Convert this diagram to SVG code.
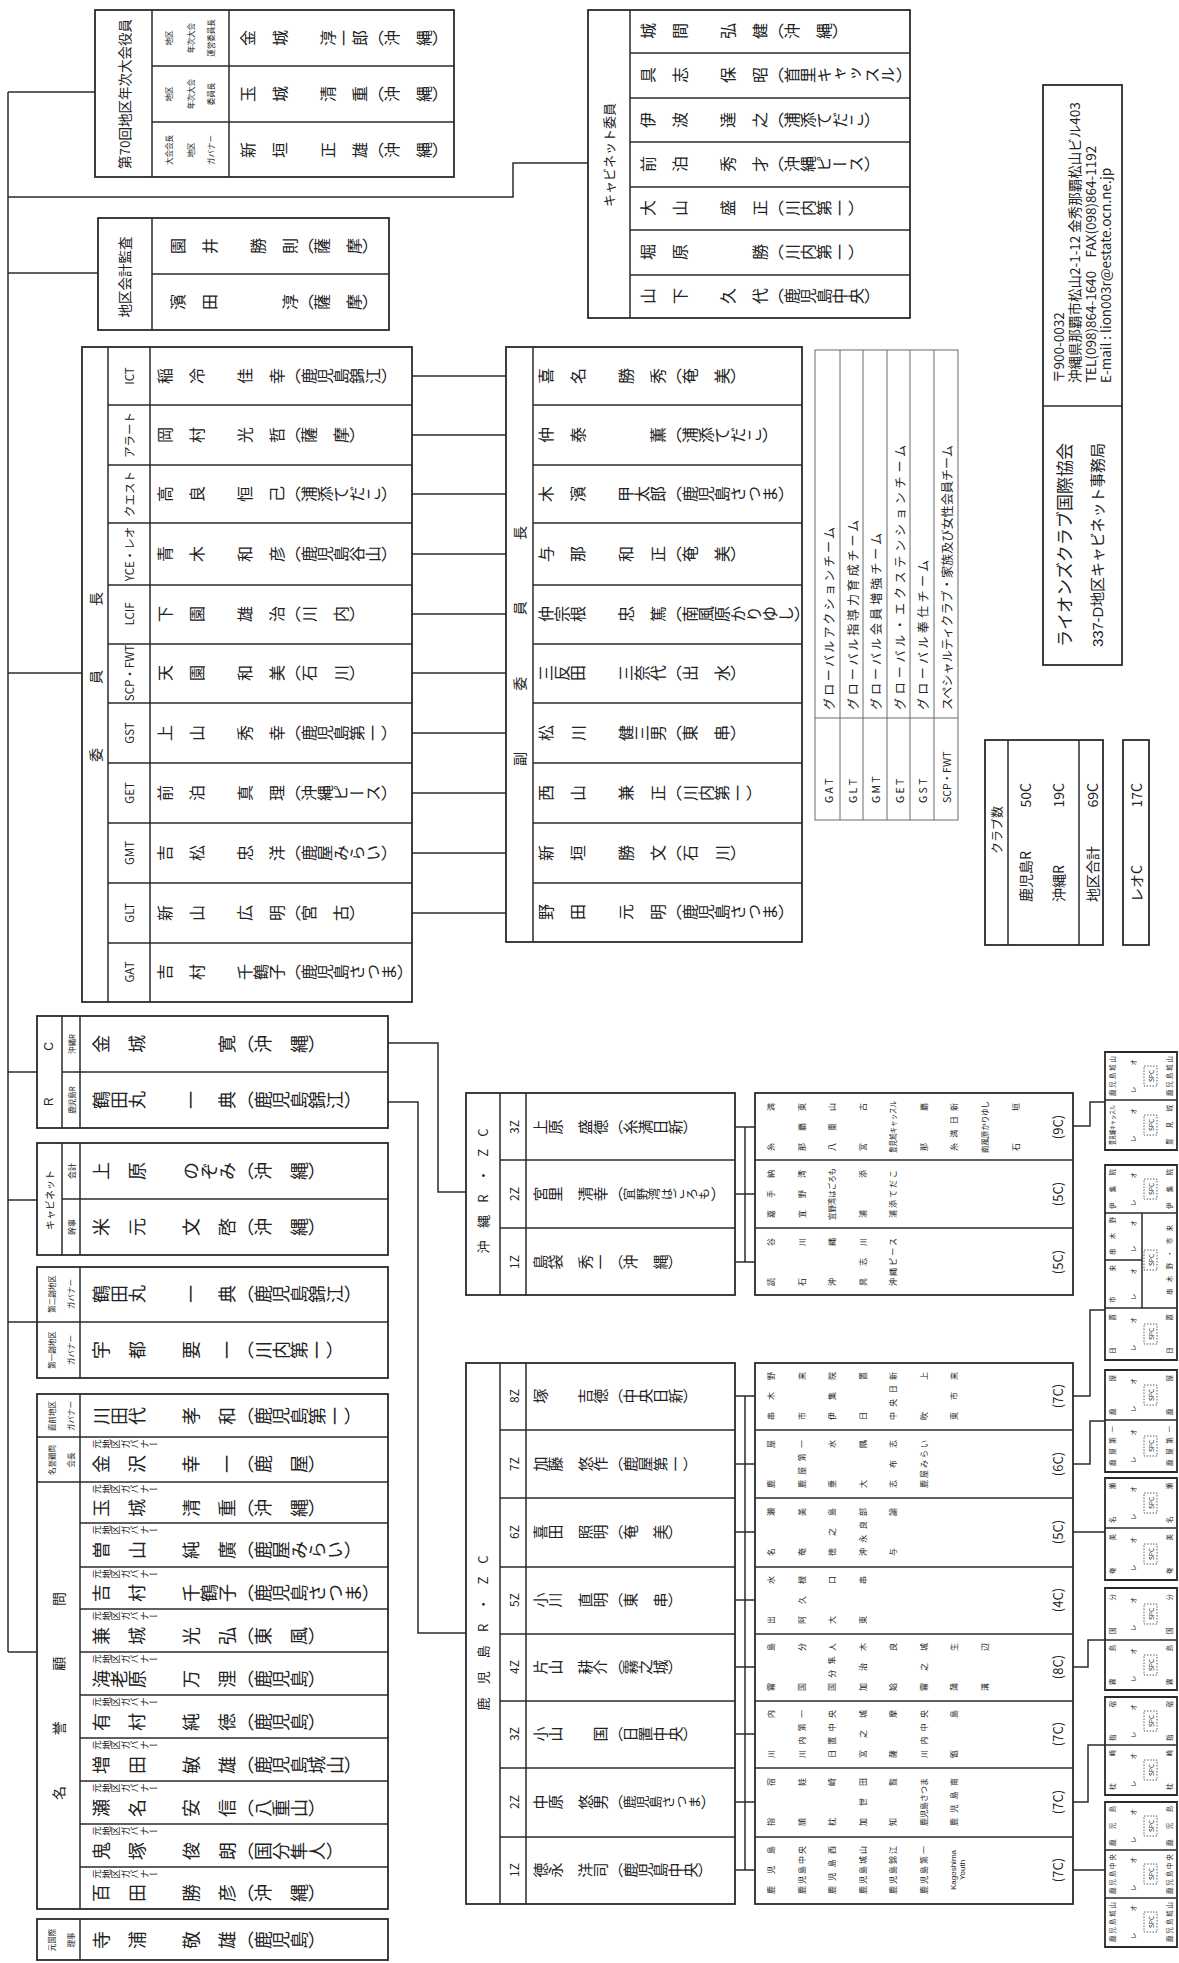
<svg xmlns="http://www.w3.org/2000/svg" width="1179" height="1963" viewBox="0 0 1179 1963">
<style>
.bx{fill:none;stroke:#2b2b2b;stroke-width:1.8}
.ln{fill:none;stroke:#2b2b2b;stroke-width:1.5}
.lg{fill:none;stroke:#6a6a6a;stroke-width:1}
.dt{fill:none;stroke:#333;stroke-width:0.8;stroke-dasharray:1.5 1.5}
text{font-family:"Noto Sans CJK JP","Noto Sans CJK SC",sans-serif;fill:#222}
.v{writing-mode:vertical-rl}
.h{text-anchor:middle;dominant-baseline:central}
.s{dominant-baseline:central}
.e{text-anchor:end;dominant-baseline:central}
.f16{font-size:16px}
.f18{font-size:18px}
.f15{font-size:15px}
.lat{font-family:"Liberation Sans","Noto Sans CJK JP",sans-serif}
.c8{font-size:8px;text-anchor:middle;dominant-baseline:central}
.c7{font-size:6.5px;text-anchor:middle;dominant-baseline:central}
</style>
<rect width="1179" height="1963" fill="#fff"/>

<g id="connectors" class="ln">
 <path d="M8,92V1652"/>
 <path d="M8,92H95"/>
 <path d="M8,197H513V163H588"/>
 <path d="M8,273H98"/>
 <path d="M8,673H82"/>
 <path d="M8,1072H37"/>
 <path d="M8,1200H37"/>
 <path d="M8,1322H37"/>
 <path d="M8,1652H37"/>
 <path d="M412,376H506M412,435H506M412,494H506M412,554H506M412,614H506M412,673H506M412,733H506M412,793H506M412,853H506M412,913H506"/>
 <path d="M388,1043H438V1192H466"/>
 <path d="M388,1102H418V1633H466"/>
 <path d="M735,1127H755M735,1194H755M735,1262H755M745,1127V1262"/>
 <path d="M735,1396H755M735,1464H755M735,1532H755M735,1600H755M735,1667H755M735,1734H755M735,1802H755M735,1870H755M745,1396V1870"/>
 <path d="M1073,1126H1090V1102H1105"/>
 <path d="M1073,1396H1090V1310H1105"/>
 <path d="M1073,1464H1090V1421H1105"/>
 <path d="M1073,1532H1105"/>
 <path d="M1073,1667H1088V1640H1105"/>
 <path d="M1073,1802H1088V1745H1105"/>
 <path d="M1073,1870H1105"/>
</g>

<g id="taikai">
 <rect class="bx" x="95" y="10" width="359" height="167"/>
 <path class="ln" d="M152,10V177M229,10V177M152,66H454M152,122H454"/>
 <text class="h" font-size="13.5" transform="translate(124,94) rotate(-90)">第70回地区年次大会役員</text>
 <g font-size="7.5">
  <text class="h" transform="translate(168,38) rotate(-90)">地区</text>
  <text class="h" transform="translate(190,38) rotate(-90)">年次大会</text>
  <text class="h" transform="translate(210,38) rotate(-90)">運営委員長</text>
  <text class="h" transform="translate(168,94) rotate(-90)">地区</text>
  <text class="h" transform="translate(190,94) rotate(-90)">年次大会</text>
  <text class="h" transform="translate(210,94) rotate(-90)">委員長</text>
  <text class="h" transform="translate(168,150) rotate(-90)">大会会長</text>
  <text class="h" transform="translate(190,150) rotate(-90)">地区</text>
  <text class="h" transform="translate(210,150) rotate(-90)">ガバナー</text>
 </g>
 <text class="v f16" transform="translate(240,38) rotate(-90)">金　城　　淳一郎（沖　縄）</text>
 <text class="v f16" transform="translate(240,94) rotate(-90)">玉　城　　清　重（沖　縄）</text>
 <text class="v f16" transform="translate(240,150) rotate(-90)">新　垣　　正　雄（沖　縄）</text>
</g>

<g id="kaikei">
 <rect class="bx" x="98" y="218" width="291" height="112"/>
 <path class="ln" d="M152,218V330M152,274H389"/>
 <text class="h" font-size="13.5" transform="translate(124,277) rotate(-90)">地区会計監査</text>
 <text class="v f16" transform="translate(170,246) rotate(-90)">園　井　　勝　則（薩　摩）</text>
 <text class="v f16" transform="translate(170,302) rotate(-90)">濱　田　　　　淳（薩　摩）</text>
</g>

<g id="cabinet-iin">
 <rect class="bx" x="588" y="10" width="322" height="308"/>
 <path class="ln" d="M630,10V318M630,53H910M630,98H910M630,142H910M630,187H910M630,230H910M630,275H910"/>
 <text class="h" font-size="13" transform="translate(608,155) rotate(-90)">キャビネット委員</text>
 <text class="v f16" transform="translate(640,31) rotate(-90)">城　間　　弘　健（沖　縄）</text>
 <text class="v f16" transform="translate(640,75) rotate(-90)">具　志　　保　昭（首里キャッスル）</text>
 <text class="v f16" transform="translate(640,120) rotate(-90)">伊　波　　達　之（浦添てだこ）</text>
 <text class="v f16" transform="translate(640,164) rotate(-90)">前　泊　　秀　才（沖縄ピース）</text>
 <text class="v f16" transform="translate(640,208) rotate(-90)">大　山　　盛　正（川内第一）</text>
 <text class="v f16" transform="translate(640,252) rotate(-90)">堀　原　　　　勝（川内第一）</text>
 <text class="v f16" transform="translate(640,296) rotate(-90)">山　下　　久　代（鹿児島中央）</text>
</g>

<g id="iincho">
 <rect class="bx" x="82" y="347" width="330" height="655"/>
 <path class="ln" d="M108,347V1002M150,347V1002M108,405H412M108,465H412M108,523H412M108,585H412M108,644H412M108,703H412M108,763H412M108,823H412M108,883H412M108,943H412"/>
 <text class="h" font-size="14" textLength="170" lengthAdjust="spacing" transform="translate(95,677) rotate(-90)">委員長</text>
 <g class="lat" font-size="11.5">
  <text class="h" transform="translate(129,376) rotate(-90)">ICT</text>
  <text class="h" transform="translate(129,435) rotate(-90)">アラート</text>
  <text class="h" transform="translate(129,494) rotate(-90)">クエスト</text>
  <text class="h" transform="translate(129,554) rotate(-90)">YCE・レオ</text>
  <text class="h" transform="translate(129,614) rotate(-90)">LCIF</text>
  <text class="h" transform="translate(129,673) rotate(-90)">SCP・FWT</text>
  <text class="h" transform="translate(129,733) rotate(-90)">GST</text>
  <text class="h" transform="translate(129,793) rotate(-90)">GET</text>
  <text class="h" transform="translate(129,853) rotate(-90)">GMT</text>
  <text class="h" transform="translate(129,913) rotate(-90)">GLT</text>
  <text class="h" transform="translate(129,972) rotate(-90)">GAT</text>
 </g>
 <text class="v f16" transform="translate(157,376) rotate(-90)">稲　冷　　佳　幸（鹿児島錦江）</text>
 <text class="v f16" transform="translate(157,435) rotate(-90)">岡　村　　光　哲（薩　摩）</text>
 <text class="v f16" transform="translate(157,494) rotate(-90)">高　良　　恒　己（浦添てだこ）</text>
 <text class="v f16" transform="translate(157,554) rotate(-90)">青　木　　和　彦（鹿児島谷山）</text>
 <text class="v f16" transform="translate(157,614) rotate(-90)">下　園　　雄　治（川　内）</text>
 <text class="v f16" transform="translate(157,673) rotate(-90)">天　園　　和　美（石　川）</text>
 <text class="v f16" transform="translate(157,733) rotate(-90)">上　山　　秀　幸（鹿児島第一）</text>
 <text class="v f16" transform="translate(157,793) rotate(-90)">前　泊　　真　理（沖縄ピース）</text>
 <text class="v f16" transform="translate(157,853) rotate(-90)">吉　松　　忠　洋（鹿屋みらい）</text>
 <text class="v f16" transform="translate(157,913) rotate(-90)">新　山　　広　明（宮　古）</text>
 <text class="v f16" transform="translate(157,972) rotate(-90)">吉　村　　千鶴子（鹿児島さつま）</text>
</g>

<g id="fuku-iincho">
 <rect class="bx" x="506" y="347" width="296" height="595"/>
 <path class="ln" d="M533,347V942M533,405H802M533,465H802M533,523H802M533,585H802M533,644H802M533,703H802M533,763H802M533,823H802M533,883H802"/>
 <text class="h" font-size="14" textLength="240" lengthAdjust="spacing" transform="translate(519,646) rotate(-90)">副委員長</text>
 <text class="v f16" transform="translate(538,376) rotate(-90)">喜　名　　勝　秀（奄　美）</text>
 <text class="v f16" transform="translate(538,435) rotate(-90)">仲　泰　　　　薫（浦添てだこ）</text>
 <text class="v f16" transform="translate(538,494) rotate(-90)">木　濱　　甲太郎（鹿児島さつま）</text>
 <text class="v f16" transform="translate(538,554) rotate(-90)">与　那　　和　正（奄　美）</text>
 <text class="v f16" transform="translate(538,614) rotate(-90)">仲宗根　　忠　篤（南風原かりゆし）</text>
 <text class="v f16" transform="translate(538,673) rotate(-90)">三反田　　三奈代（出　水）</text>
 <text class="v f16" transform="translate(538,733) rotate(-90)">松　川　　健三男（東　串）</text>
 <text class="v f16" transform="translate(538,793) rotate(-90)">西　山　　兼　正（川内第一）</text>
 <text class="v f16" transform="translate(538,853) rotate(-90)">新　垣　　勝　文（石　川）</text>
 <text class="v f16" transform="translate(538,912) rotate(-90)">野　田　　元　明（鹿児島さつま）</text>
</g>

<g id="rc">
 <rect class="bx" x="37" y="1016" width="351" height="112"/>
 <path class="ln" d="M62,1016V1128M80,1016V1128M62,1072H388"/>
 <text class="h lat" font-size="12" textLength="64" lengthAdjust="spacing" transform="translate(49,1074) rotate(-90)">RC</text>
 <text class="h" font-size="7.5" transform="translate(71,1044) rotate(-90)">沖縄R</text>
 <text class="h" font-size="7.5" transform="translate(71,1100) rotate(-90)">鹿児島R</text>
 <text class="v f18" transform="translate(92,1044) rotate(-90)">金　城　　　　寛（沖　縄）</text>
 <text class="v f18" transform="translate(92,1100) rotate(-90)">鶴田丸　　一　典（鹿児島錦江）</text>
</g>

<g id="cabinet">
 <rect class="bx" x="37" y="1143" width="351" height="112"/>
 <path class="ln" d="M62,1143V1255M80,1143V1255M62,1199H388"/>
 <text class="h" font-size="10" transform="translate(49,1200) rotate(-90)">キャビネット</text>
 <text class="h" font-size="8" transform="translate(71,1171) rotate(-90)">会計</text>
 <text class="h" font-size="8" transform="translate(71,1227) rotate(-90)">幹事</text>
 <text class="v f18" transform="translate(92,1171) rotate(-90)">上　原　　のぞみ（沖　縄）</text>
 <text class="v f18" transform="translate(92,1227) rotate(-90)">米　元　　文　啓（沖　縄）</text>
</g>

<g id="fuku-governor">
 <rect class="bx" x="37" y="1267" width="351" height="111"/>
 <path class="ln" d="M80,1267V1378M37,1322H388"/>
 <text class="h" font-size="7.5" transform="translate(51,1294) rotate(-90)">第二副地区</text>
 <text class="h" font-size="7.5" transform="translate(70,1294) rotate(-90)">ガバナー</text>
 <text class="h" font-size="7.5" transform="translate(51,1350) rotate(-90)">第一副地区</text>
 <text class="h" font-size="7.5" transform="translate(70,1350) rotate(-90)">ガバナー</text>
 <text class="v f18" transform="translate(92,1294) rotate(-90)">鶴田丸　　一　典（鹿児島錦江）</text>
 <text class="v f18" transform="translate(92,1350) rotate(-90)">宇　都　　要　一（川内第一）</text>
</g>

<g id="meiyo-komon">
 <rect class="bx" x="37" y="1394" width="351" height="515"/>
 <path class="ln" d="M80,1394V1909M37,1437H388M37,1482H388M80,1523H388M80,1567H388M80,1609H388M80,1652H388M80,1695H388M80,1738H388M80,1781H388M80,1824H388M80,1867H388"/>
 <text class="h" font-size="7.5" transform="translate(51,1416) rotate(-90)">直前地区</text>
 <text class="h" font-size="7.5" transform="translate(70,1416) rotate(-90)">ガバナー</text>
 <text class="h" font-size="7.5" transform="translate(51,1460) rotate(-90)">名誉顧問</text>
 <text class="h" font-size="7.5" transform="translate(70,1460) rotate(-90)">会長</text>
 <text class="h" font-size="14" textLength="208" lengthAdjust="spacing" transform="translate(58,1696) rotate(-90)">名誉顧問</text>
 <text class="v f18" transform="translate(92,1416) rotate(-90)">川田代　　孝　和（鹿児島第一）</text>
 <g class="v" font-size="9.5">
  <text transform="translate(92,1444) rotate(-90)">元地区ガバナー</text>
  <text transform="translate(92,1489) rotate(-90)">元地区ガバナー</text>
  <text transform="translate(92,1530) rotate(-90)">元地区ガバナー</text>
  <text transform="translate(92,1574) rotate(-90)">元地区ガバナー</text>
  <text transform="translate(92,1616) rotate(-90)">元地区ガバナー</text>
  <text transform="translate(92,1659) rotate(-90)">元地区ガバナー</text>
  <text transform="translate(92,1702) rotate(-90)">元地区ガバナー</text>
  <text transform="translate(92,1745) rotate(-90)">元地区ガバナー</text>
  <text transform="translate(92,1788) rotate(-90)">元地区ガバナー</text>
  <text transform="translate(92,1831) rotate(-90)">元地区ガバナー</text>
  <text transform="translate(92,1874) rotate(-90)">元地区ガバナー</text>
 </g>
 <text class="v f18" transform="translate(92,1464) rotate(-90)">金　沢　　幸　一（鹿　屋）</text>
 <text class="v f18" transform="translate(92,1508) rotate(-90)">玉　城　　清　重（沖　縄）</text>
 <text class="v f18" transform="translate(92,1550) rotate(-90)">曽　山　　純　廣（鹿屋みらい）</text>
 <text class="v f18" transform="translate(92,1593) rotate(-90)">吉　村　　千鶴子（鹿児島さつま）</text>
 <text class="v f18" transform="translate(92,1636) rotate(-90)">兼　城　　光　弘（東　風）</text>
 <text class="v f18" transform="translate(92,1679) rotate(-90)">海老原　　万　浬（鹿児島）</text>
 <text class="v f18" transform="translate(92,1722) rotate(-90)">有　村　　純　徳（鹿児島）</text>
 <text class="v f18" transform="translate(92,1765) rotate(-90)">増　田　　敏　雄（鹿児島城山）</text>
 <text class="v f18" transform="translate(92,1808) rotate(-90)">瀬　名　　安　信（八重山）</text>
 <text class="v f18" transform="translate(92,1851) rotate(-90)">鬼　塚　　俊　朗（国分隼人）</text>
 <text class="v f18" transform="translate(92,1893) rotate(-90)">百　田　　勝　彦（沖　縄）</text>
</g>

<g id="moto-kokusai">
 <rect class="bx" x="37" y="1919" width="351" height="41"/>
 <path class="ln" d="M80,1919V1960"/>
 <text class="h" font-size="7.5" transform="translate(51,1940) rotate(-90)">元国際</text>
 <text class="h" font-size="7.5" transform="translate(70,1940) rotate(-90)">理事</text>
 <text class="v f18" transform="translate(92,1940) rotate(-90)">寺　浦　　敬　雄（鹿児島）</text>
</g>

<g id="okinawa-rzc">
 <rect class="bx" x="466" y="1093" width="269" height="202"/>
 <path class="ln" d="M500,1093V1295M526,1093V1295M500,1160H735M500,1228H735"/>
 <text class="h" font-size="13" textLength="125" lengthAdjust="spacing" transform="translate(482,1191) rotate(-90)">沖縄R・ZC</text>
 <g class="lat" font-size="12">
  <text class="h" transform="translate(513,1127) rotate(-90)">3Z</text>
  <text class="h" transform="translate(513,1194) rotate(-90)">2Z</text>
  <text class="h" transform="translate(513,1262) rotate(-90)">1Z</text>
 </g>
 <text class="v f15" transform="translate(533,1127) rotate(-90)">上原　盛徳（糸満日新）</text>
 <text class="v f15" transform="translate(533,1194) rotate(-90)">宮里　清幸（<tspan font-size="12.5">宜野湾はごろも</tspan>）</text>
 <text class="v f15" transform="translate(533,1262) rotate(-90)">島袋　秀一（沖　縄）</text>
</g>

<g id="kagoshima-rzc">
 <rect class="bx" x="466" y="1363" width="269" height="541"/>
 <path class="ln" d="M500,1363V1904M526,1363V1904M500,1430H735M500,1498H735M500,1567H735M500,1634H735M500,1701H735M500,1768H735M500,1837H735"/>
 <text class="h" font-size="13" textLength="155" lengthAdjust="spacing" transform="translate(482,1633) rotate(-90)">鹿児島R・ZC</text>
 <g class="lat" font-size="12">
  <text class="h" transform="translate(513,1396) rotate(-90)">8Z</text>
  <text class="h" transform="translate(513,1464) rotate(-90)">7Z</text>
  <text class="h" transform="translate(513,1532) rotate(-90)">6Z</text>
  <text class="h" transform="translate(513,1600) rotate(-90)">5Z</text>
  <text class="h" transform="translate(513,1667) rotate(-90)">4Z</text>
  <text class="h" transform="translate(513,1734) rotate(-90)">3Z</text>
  <text class="h" transform="translate(513,1802) rotate(-90)">2Z</text>
  <text class="h" transform="translate(513,1870) rotate(-90)">1Z</text>
 </g>
 <text class="v f15" transform="translate(533,1396) rotate(-90)">塚　　吉徳（中央日新）</text>
 <text class="v f15" transform="translate(533,1464) rotate(-90)">加藤　悠作（鹿屋第一）</text>
 <text class="v f15" transform="translate(533,1532) rotate(-90)">喜田　照明（奄　美）</text>
 <text class="v f15" transform="translate(533,1600) rotate(-90)">小川　直明（東　串）</text>
 <text class="v f15" transform="translate(533,1667) rotate(-90)">片山　耕介（霧之城）</text>
 <text class="v f15" transform="translate(533,1734) rotate(-90)">小山　　国（日置中央）</text>
 <text class="v f15" transform="translate(533,1802) rotate(-90)">中原　悠男（<tspan font-size="13">鹿児島さつま</tspan>）</text>
 <text class="v f15" transform="translate(533,1870) rotate(-90)">徳永　洋司（鹿児島中央）</text>
</g>

<g id="okinawa-clubs">
 <rect class="bx" x="755" y="1093" width="318" height="202"/>
 <path class="ln" d="M755,1160H1073M755,1228H1073"/>
 <g>
  <text class="c8" textLength="48" lengthAdjust="spacing" transform="translate(770,1127) rotate(-90)">糸満</text>
  <text class="c8" textLength="48" lengthAdjust="spacing" transform="translate(801,1127) rotate(-90)">那覇東</text>
  <text class="c8" textLength="48" lengthAdjust="spacing" transform="translate(831,1127) rotate(-90)">八重山</text>
  <text class="c8" textLength="48" lengthAdjust="spacing" transform="translate(862,1127) rotate(-90)">宮古</text>
  <text class="c8" textLength="52" lengthAdjust="spacingAndGlyphs" transform="translate(892,1127) rotate(-90)">豊見城キャッスル</text>
  <text class="c8" textLength="48" lengthAdjust="spacing" transform="translate(923,1127) rotate(-90)">那覇</text>
  <text class="c8" textLength="48" lengthAdjust="spacing" transform="translate(953,1127) rotate(-90)">糸満日新</text>
  <text class="c8" textLength="52" lengthAdjust="spacingAndGlyphs" transform="translate(984,1127) rotate(-90)">南風原かりゆし</text>
  <text class="c8" textLength="48" lengthAdjust="spacing" transform="translate(1015,1127) rotate(-90)">石垣</text>
  <text class="c8" textLength="48" lengthAdjust="spacing" transform="translate(770,1194) rotate(-90)">嘉手納</text>
  <text class="c8" textLength="48" lengthAdjust="spacing" transform="translate(801,1194) rotate(-90)">宜野湾</text>
  <text class="c8" textLength="52" lengthAdjust="spacingAndGlyphs" transform="translate(831,1194) rotate(-90)">宜野湾はごろも</text>
  <text class="c8" textLength="48" lengthAdjust="spacing" transform="translate(862,1194) rotate(-90)">浦添</text>
  <text class="c8" textLength="48" lengthAdjust="spacing" transform="translate(892,1194) rotate(-90)">浦添てだこ</text>
  <text class="c8" textLength="48" lengthAdjust="spacing" transform="translate(770,1262) rotate(-90)">読谷</text>
  <text class="c8" textLength="48" lengthAdjust="spacing" transform="translate(801,1262) rotate(-90)">石川</text>
  <text class="c8" textLength="48" lengthAdjust="spacing" transform="translate(831,1262) rotate(-90)">沖縄</text>
  <text class="c8" textLength="48" lengthAdjust="spacing" transform="translate(862,1262) rotate(-90)">具志川</text>
  <text class="c8" textLength="48" lengthAdjust="spacing" transform="translate(892,1262) rotate(-90)">沖縄ピース</text>
 </g>
 <g font-size="13" class="lat">
  <text class="h" transform="translate(1057,1127) rotate(-90)">(9C)</text>
  <text class="h" transform="translate(1057,1194) rotate(-90)">(5C)</text>
  <text class="h" transform="translate(1057,1262) rotate(-90)">(5C)</text>
 </g>
</g>

<g id="kagoshima-clubs">
 <rect class="bx" x="755" y="1363" width="318" height="541"/>
 <path class="ln" d="M755,1430H1073M755,1498H1073M755,1567H1073M755,1634H1073M755,1701H1073M755,1768H1073M755,1837H1073"/>
 <g>
  <text class="c8" textLength="48" lengthAdjust="spacing" transform="translate(770,1396) rotate(-90)">串木野</text>
  <text class="c8" textLength="48" lengthAdjust="spacing" transform="translate(801,1396) rotate(-90)">市来</text>
  <text class="c8" textLength="48" lengthAdjust="spacing" transform="translate(831,1396) rotate(-90)">伊集院</text>
  <text class="c8" textLength="48" lengthAdjust="spacing" transform="translate(862,1396) rotate(-90)">日置</text>
  <text class="c8" textLength="48" lengthAdjust="spacing" transform="translate(892,1396) rotate(-90)">中央日新</text>
  <text class="c8" textLength="48" lengthAdjust="spacing" transform="translate(923,1396) rotate(-90)">吹上</text>
  <text class="c8" textLength="48" lengthAdjust="spacing" transform="translate(953,1396) rotate(-90)">東市来</text>

  <text class="c8" textLength="48" lengthAdjust="spacing" transform="translate(770,1464) rotate(-90)">鹿屋</text>
  <text class="c8" textLength="48" lengthAdjust="spacing" transform="translate(801,1464) rotate(-90)">鹿屋第一</text>
  <text class="c8" textLength="48" lengthAdjust="spacing" transform="translate(831,1464) rotate(-90)">垂水</text>
  <text class="c8" textLength="48" lengthAdjust="spacing" transform="translate(862,1464) rotate(-90)">大隅</text>
  <text class="c8" textLength="48" lengthAdjust="spacing" transform="translate(892,1464) rotate(-90)">志布志</text>
  <text class="c8" textLength="48" lengthAdjust="spacing" transform="translate(923,1464) rotate(-90)">鹿屋みらい</text>

  <text class="c8" textLength="48" lengthAdjust="spacing" transform="translate(770,1532) rotate(-90)">名瀬</text>
  <text class="c8" textLength="48" lengthAdjust="spacing" transform="translate(801,1532) rotate(-90)">奄美</text>
  <text class="c8" textLength="48" lengthAdjust="spacing" transform="translate(831,1532) rotate(-90)">徳之島</text>
  <text class="c8" textLength="48" lengthAdjust="spacing" transform="translate(862,1532) rotate(-90)">沖永良部</text>
  <text class="c8" textLength="48" lengthAdjust="spacing" transform="translate(892,1532) rotate(-90)">与論</text>

  <text class="c8" textLength="48" lengthAdjust="spacing" transform="translate(770,1600) rotate(-90)">出水</text>
  <text class="c8" textLength="48" lengthAdjust="spacing" transform="translate(801,1600) rotate(-90)">阿久根</text>
  <text class="c8" textLength="48" lengthAdjust="spacing" transform="translate(831,1600) rotate(-90)">大口</text>
  <text class="c8" textLength="48" lengthAdjust="spacing" transform="translate(862,1600) rotate(-90)">東串</text>

  <text class="c8" textLength="48" lengthAdjust="spacing" transform="translate(770,1667) rotate(-90)">霧島</text>
  <text class="c8" textLength="48" lengthAdjust="spacing" transform="translate(801,1667) rotate(-90)">国分</text>
  <text class="c8" textLength="48" lengthAdjust="spacing" transform="translate(831,1667) rotate(-90)">国分隼人</text>
  <text class="c8" textLength="48" lengthAdjust="spacing" transform="translate(862,1667) rotate(-90)">加治木</text>
  <text class="c8" textLength="48" lengthAdjust="spacing" transform="translate(892,1667) rotate(-90)">姶良</text>
  <text class="c8" textLength="48" lengthAdjust="spacing" transform="translate(923,1667) rotate(-90)">霧之城</text>
  <text class="c8" textLength="48" lengthAdjust="spacing" transform="translate(953,1667) rotate(-90)">蒲生</text>
  <text class="c8" textLength="48" lengthAdjust="spacing" transform="translate(984,1667) rotate(-90)">溝辺</text>

  <text class="c8" textLength="48" lengthAdjust="spacing" transform="translate(770,1734) rotate(-90)">川内</text>
  <text class="c8" textLength="48" lengthAdjust="spacing" transform="translate(801,1734) rotate(-90)">川内第一</text>
  <text class="c8" textLength="48" lengthAdjust="spacing" transform="translate(831,1734) rotate(-90)">日置中央</text>
  <text class="c8" textLength="48" lengthAdjust="spacing" transform="translate(862,1734) rotate(-90)">宮之城</text>
  <text class="c8" textLength="48" lengthAdjust="spacing" transform="translate(892,1734) rotate(-90)">薩摩</text>
  <text class="c8" textLength="48" lengthAdjust="spacing" transform="translate(923,1734) rotate(-90)">川内中央</text>
  <text class="c8" textLength="48" lengthAdjust="spacing" transform="translate(953,1734) rotate(-90)">甑島</text>

  <text class="c8" textLength="48" lengthAdjust="spacing" transform="translate(770,1802) rotate(-90)">指宿</text>
  <text class="c8" textLength="48" lengthAdjust="spacing" transform="translate(801,1802) rotate(-90)">頴娃</text>
  <text class="c8" textLength="48" lengthAdjust="spacing" transform="translate(831,1802) rotate(-90)">枕崎</text>
  <text class="c8" textLength="48" lengthAdjust="spacing" transform="translate(862,1802) rotate(-90)">加世田</text>
  <text class="c8" textLength="48" lengthAdjust="spacing" transform="translate(892,1802) rotate(-90)">知覧</text>
  <text class="c8" textLength="48" lengthAdjust="spacing" transform="translate(923,1802) rotate(-90)">鹿児島さつま</text>
  <text class="c8" textLength="48" lengthAdjust="spacing" transform="translate(953,1802) rotate(-90)">鹿児島南</text>

  <text class="c8" textLength="48" lengthAdjust="spacing" transform="translate(770,1870) rotate(-90)">鹿児島</text>
  <text class="c8" textLength="48" lengthAdjust="spacing" transform="translate(801,1870) rotate(-90)">鹿児島中央</text>
  <text class="c8" textLength="48" lengthAdjust="spacing" transform="translate(831,1870) rotate(-90)">鹿児島西</text>
  <text class="c8" textLength="48" lengthAdjust="spacing" transform="translate(862,1870) rotate(-90)">鹿児島城山</text>
  <text class="c8" textLength="48" lengthAdjust="spacing" transform="translate(892,1870) rotate(-90)">鹿児島錦江</text>
  <text class="c8" textLength="48" lengthAdjust="spacing" transform="translate(923,1870) rotate(-90)">鹿児島第一</text>
  <text class="c8 lat" font-size="7.5" transform="translate(953,1870) rotate(-90)">Kagoshima</text>
  <text class="c8 lat" font-size="7.5" transform="translate(962,1870) rotate(-90)">Youth</text>
 </g>
 <g font-size="13" class="lat">
  <text class="h" transform="translate(1057,1396) rotate(-90)">(7C)</text>
  <text class="h" transform="translate(1057,1464) rotate(-90)">(6C)</text>
  <text class="h" transform="translate(1057,1532) rotate(-90)">(5C)</text>
  <text class="h" transform="translate(1057,1600) rotate(-90)">(4C)</text>
  <text class="h" transform="translate(1057,1667) rotate(-90)">(8C)</text>
  <text class="h" transform="translate(1057,1734) rotate(-90)">(7C)</text>
  <text class="h" transform="translate(1057,1802) rotate(-90)">(7C)</text>
  <text class="h" transform="translate(1057,1870) rotate(-90)">(7C)</text>
 </g>
</g>

<g id="leo-clubs">
 <path class="bx" d="M1105,1052H1177V1150H1105Z M1105,1165H1177V1360H1105Z M1105,1370H1177V1472H1105Z M1105,1478H1177V1580H1105Z M1105,1588H1177V1690H1105Z M1105,1697H1177V1795H1105Z M1105,1802H1177V1947H1105Z"/>
 <path class="ln" d="M1105,1100H1177M1105,1213H1177M1105,1308H1177M1105,1420H1177M1105,1528H1177M1105,1640H1177M1105,1745H1177M1105,1850H1177M1105,1898H1177M1142,1213V1308M1105,1260H1142"/>
 <g>
  <rect class="dt" x="1144" y="1066" width="13" height="20"/><rect class="dt" x="1144" y="1115" width="13" height="20"/>
  <rect class="dt" x="1144" y="1179" width="13" height="20"/><rect class="dt" x="1144" y="1250" width="13" height="20"/>
  <rect class="dt" x="1144" y="1324" width="13" height="20"/><rect class="dt" x="1144" y="1385" width="13" height="20"/>
  <rect class="dt" x="1144" y="1436" width="13" height="20"/><rect class="dt" x="1144" y="1493" width="13" height="20"/>
  <rect class="dt" x="1144" y="1544" width="13" height="20"/><rect class="dt" x="1144" y="1604" width="13" height="20"/>
  <rect class="dt" x="1144" y="1655" width="13" height="20"/><rect class="dt" x="1144" y="1711" width="13" height="20"/>
  <rect class="dt" x="1144" y="1760" width="13" height="20"/><rect class="dt" x="1144" y="1816" width="13" height="20"/>
  <rect class="dt" x="1144" y="1864" width="13" height="20"/><rect class="dt" x="1144" y="1912" width="13" height="20"/>
 </g>
 <g class="lat" font-size="6.5">
  <text class="h" transform="translate(1150.5,1076) rotate(-90)">SPC</text><text class="h" transform="translate(1150.5,1125) rotate(-90)">SPC</text>
  <text class="h" transform="translate(1150.5,1189) rotate(-90)">SPC</text><text class="h" transform="translate(1150.5,1260) rotate(-90)">SPC</text>
  <text class="h" transform="translate(1150.5,1334) rotate(-90)">SPC</text><text class="h" transform="translate(1150.5,1395) rotate(-90)">SPC</text>
  <text class="h" transform="translate(1150.5,1446) rotate(-90)">SPC</text><text class="h" transform="translate(1150.5,1503) rotate(-90)">SPC</text>
  <text class="h" transform="translate(1150.5,1554) rotate(-90)">SPC</text><text class="h" transform="translate(1150.5,1614) rotate(-90)">SPC</text>
  <text class="h" transform="translate(1150.5,1665) rotate(-90)">SPC</text><text class="h" transform="translate(1150.5,1721) rotate(-90)">SPC</text>
  <text class="h" transform="translate(1150.5,1770) rotate(-90)">SPC</text><text class="h" transform="translate(1150.5,1826) rotate(-90)">SPC</text>
  <text class="h" transform="translate(1150.5,1874) rotate(-90)">SPC</text><text class="h" transform="translate(1150.5,1922) rotate(-90)">SPC</text>
 </g>
 <g>
  <text class="c7" textLength="34" lengthAdjust="spacing" transform="translate(1133,1076) rotate(-90)">レオ</text>
  <text class="c7" textLength="34" lengthAdjust="spacing" transform="translate(1133,1125) rotate(-90)">レオ</text>
  <text class="c7" textLength="34" lengthAdjust="spacing" transform="translate(1133,1189) rotate(-90)">レオ</text>
  <text class="c7" textLength="32" lengthAdjust="spacing" transform="translate(1133,1236) rotate(-90)">レオ</text>
  <text class="c7" textLength="32" lengthAdjust="spacing" transform="translate(1133,1284) rotate(-90)">レオ</text>
  <text class="c7" textLength="34" lengthAdjust="spacing" transform="translate(1133,1334) rotate(-90)">レオ</text>
  <text class="c7" textLength="34" lengthAdjust="spacing" transform="translate(1133,1395) rotate(-90)">レオ</text>
  <text class="c7" textLength="34" lengthAdjust="spacing" transform="translate(1133,1446) rotate(-90)">レオ</text>
  <text class="c7" textLength="34" lengthAdjust="spacing" transform="translate(1133,1503) rotate(-90)">レオ</text>
  <text class="c7" textLength="34" lengthAdjust="spacing" transform="translate(1133,1554) rotate(-90)">レオ</text>
  <text class="c7" textLength="34" lengthAdjust="spacing" transform="translate(1133,1614) rotate(-90)">レオ</text>
  <text class="c7" textLength="34" lengthAdjust="spacing" transform="translate(1133,1665) rotate(-90)">レオ</text>
  <text class="c7" textLength="34" lengthAdjust="spacing" transform="translate(1133,1721) rotate(-90)">レオ</text>
  <text class="c7" textLength="34" lengthAdjust="spacing" transform="translate(1133,1770) rotate(-90)">レオ</text>
  <text class="c7" textLength="34" lengthAdjust="spacing" transform="translate(1133,1826) rotate(-90)">レオ</text>
  <text class="c7" textLength="34" lengthAdjust="spacing" transform="translate(1133,1874) rotate(-90)">レオ</text>
  <text class="c7" textLength="34" lengthAdjust="spacing" transform="translate(1133,1922) rotate(-90)">レオ</text>
 </g>
 <g>
  <text class="c7" textLength="40" lengthAdjust="spacing" transform="translate(1112,1076) rotate(-90)">鹿児島城山</text>
  <text class="c7" textLength="40" lengthAdjust="spacingAndGlyphs" transform="translate(1112,1125) rotate(-90)">豊見城キャッスル</text>
  <text class="c7" textLength="40" lengthAdjust="spacing" transform="translate(1112,1189) rotate(-90)">伊集院</text>
  <text class="c7" textLength="38" lengthAdjust="spacing" transform="translate(1112,1236) rotate(-90)">串木野</text>
  <text class="c7" textLength="38" lengthAdjust="spacing" transform="translate(1112,1284) rotate(-90)">市来</text>
  <text class="c7" textLength="40" lengthAdjust="spacing" transform="translate(1112,1334) rotate(-90)">日置</text>
  <text class="c7" textLength="40" lengthAdjust="spacing" transform="translate(1112,1395) rotate(-90)">鹿屋</text>
  <text class="c7" textLength="40" lengthAdjust="spacing" transform="translate(1112,1446) rotate(-90)">鹿屋第一</text>
  <text class="c7" textLength="40" lengthAdjust="spacing" transform="translate(1112,1503) rotate(-90)">名瀬</text>
  <text class="c7" textLength="40" lengthAdjust="spacing" transform="translate(1112,1554) rotate(-90)">奄美</text>
  <text class="c7" textLength="40" lengthAdjust="spacing" transform="translate(1112,1614) rotate(-90)">国分</text>
  <text class="c7" textLength="40" lengthAdjust="spacing" transform="translate(1112,1665) rotate(-90)">霧島</text>
  <text class="c7" textLength="40" lengthAdjust="spacing" transform="translate(1112,1721) rotate(-90)">指宿</text>
  <text class="c7" textLength="40" lengthAdjust="spacing" transform="translate(1112,1770) rotate(-90)">枕崎</text>
  <text class="c7" textLength="40" lengthAdjust="spacing" transform="translate(1112,1826) rotate(-90)">鹿児島</text>
  <text class="c7" textLength="40" lengthAdjust="spacing" transform="translate(1112,1874) rotate(-90)">鹿児島中央</text>
  <text class="c7" textLength="40" lengthAdjust="spacing" transform="translate(1112,1922) rotate(-90)">鹿児島城山</text>
 </g>
 <g>
  <text class="c7" textLength="40" lengthAdjust="spacing" transform="translate(1169,1076) rotate(-90)">鹿児島城山</text>
  <text class="c7" textLength="40" lengthAdjust="spacing" transform="translate(1169,1125) rotate(-90)">豊見城</text>
  <text class="c7" textLength="40" lengthAdjust="spacing" transform="translate(1169,1189) rotate(-90)">伊集院</text>
  <text class="c7" textLength="70" lengthAdjust="spacing" transform="translate(1169,1260) rotate(-90)">串木野・市来</text>
  <text class="c7" textLength="40" lengthAdjust="spacing" transform="translate(1169,1334) rotate(-90)">日置</text>
  <text class="c7" textLength="40" lengthAdjust="spacing" transform="translate(1169,1395) rotate(-90)">鹿屋</text>
  <text class="c7" textLength="40" lengthAdjust="spacing" transform="translate(1169,1446) rotate(-90)">鹿屋第一</text>
  <text class="c7" textLength="40" lengthAdjust="spacing" transform="translate(1169,1503) rotate(-90)">名瀬</text>
  <text class="c7" textLength="40" lengthAdjust="spacing" transform="translate(1169,1554) rotate(-90)">奄美</text>
  <text class="c7" textLength="40" lengthAdjust="spacing" transform="translate(1169,1614) rotate(-90)">国分</text>
  <text class="c7" textLength="40" lengthAdjust="spacing" transform="translate(1169,1665) rotate(-90)">霧島</text>
  <text class="c7" textLength="40" lengthAdjust="spacing" transform="translate(1169,1721) rotate(-90)">指宿</text>
  <text class="c7" textLength="40" lengthAdjust="spacing" transform="translate(1169,1770) rotate(-90)">枕崎</text>
  <text class="c7" textLength="40" lengthAdjust="spacing" transform="translate(1169,1826) rotate(-90)">鹿児島</text>
  <text class="c7" textLength="40" lengthAdjust="spacing" transform="translate(1169,1874) rotate(-90)">鹿児島中央</text>
  <text class="c7" textLength="40" lengthAdjust="spacing" transform="translate(1169,1922) rotate(-90)">鹿児島城山</text>
 </g>
</g>

<g id="legend">
 <rect class="lg" x="815" y="350" width="143" height="470"/>
 <path class="lg" d="M840,350V820M863,350V820M887,350V820M910,350V820M934,350V820M815,718H958"/>
 <g class="lat" font-size="10.5" fill="#444">
  <text class="s" transform="translate(828,803) rotate(-90)">G A T</text>
  <text class="s" transform="translate(852,803) rotate(-90)">G L T</text>
  <text class="s" transform="translate(875,803) rotate(-90)">G M T</text>
  <text class="s" transform="translate(899,803) rotate(-90)">G E T</text>
  <text class="s" transform="translate(922,803) rotate(-90)">G S T</text>
  <text class="s" transform="translate(946,803) rotate(-90)">SCP・FWT</text>
 </g>
 <g font-size="12" fill="#444">
  <text class="s" textLength="183" lengthAdjust="spacing" transform="translate(828,710) rotate(-90)">グローバルアクションチーム</text>
  <text class="s" textLength="190" lengthAdjust="spacing" transform="translate(852,710) rotate(-90)">グローバル指導力育成チーム</text>
  <text class="s" textLength="177" lengthAdjust="spacing" transform="translate(875,710) rotate(-90)">グローバル会員増強チーム</text>
  <text class="s" textLength="265" lengthAdjust="spacing" transform="translate(899,710) rotate(-90)">グローバル・エクステンションチーム</text>
  <text class="s" textLength="150" lengthAdjust="spacing" transform="translate(922,710) rotate(-90)">グローバル奉仕チーム</text>
  <text class="s" textLength="265" lengthAdjust="spacingAndGlyphs" transform="translate(946,710) rotate(-90)">スペシャルティクラブ・家族及び女性会員チーム</text>
 </g>
</g>

<g id="office">
 <rect class="bx" x="1043" y="85" width="79" height="580"/>
 <path class="ln" d="M1043,406H1122"/>
 <g class="lat" font-size="13.5">
  <text class="s" transform="translate(1058,383) rotate(-90)">〒900-0032</text>
  <text class="s" transform="translate(1074,383) rotate(-90)">沖縄県那覇市松山2-1-12 金秀那覇松山ビル403</text>
  <text class="s" transform="translate(1090,383) rotate(-90)">TEL(098)864-1640　FAX(098)864-1192</text>
  <text class="s" transform="translate(1105,383) rotate(-90)">E-mail : lion003r@estate.ocn.ne.jp</text>
 </g>
 <text class="s" font-size="17" textLength="204" lengthAdjust="spacing" transform="translate(1063,647) rotate(-90)">ライオンズクラブ国際協会</text>
 <text class="s lat" font-size="15" textLength="204" lengthAdjust="spacing" transform="translate(1097,647) rotate(-90)">337-D地区キャビネット事務局</text>
</g>

<g id="club-count">
 <rect class="bx" x="985" y="740" width="118" height="205"/>
 <path class="ln" d="M1008,740V945M1079,740V945"/>
 <text class="h" font-size="12" transform="translate(996,830) rotate(-90)">クラブ数</text>
 <g font-size="14" class="lat">
  <text class="s" transform="translate(1025,902) rotate(-90)">鹿児島R</text>
  <text class="e" transform="translate(1025,783) rotate(-90)">50C</text>
  <text class="s" transform="translate(1058,902) rotate(-90)">沖縄R</text>
  <text class="e" transform="translate(1058,783) rotate(-90)">19C</text>
  <text class="s" transform="translate(1092,902) rotate(-90)">地区合計</text>
  <text class="e" transform="translate(1092,783) rotate(-90)">69C</text>
 </g>
</g>

<g id="leo-count">
 <rect class="bx" x="1123" y="740" width="26" height="205"/>
 <g font-size="14" class="lat">
  <text class="s" transform="translate(1136,902) rotate(-90)">レオC</text>
  <text class="e" transform="translate(1136,783) rotate(-90)">17C</text>
 </g>
</g>
</svg>
